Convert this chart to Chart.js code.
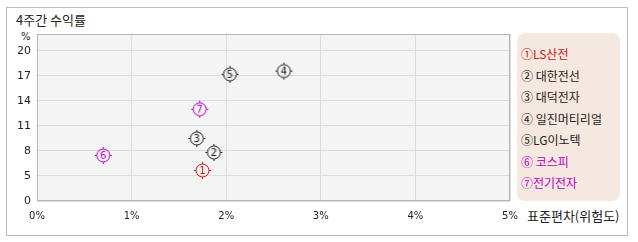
<!DOCTYPE html>
<html><head><meta charset="utf-8">
<script src="https://cdn.jsdelivr.net/npm/chart.js@4/dist/chart.umd.min.js"></script>
<style>
html,body{margin:0;padding:0;background:#fff;width:638px;height:242px;overflow:hidden;font-family:'DejaVu Sans','Noto Sans CJK KR',sans-serif;}
#wrap{position:relative;width:638px;height:242px;}
#frame{position:absolute;left:6px;top:7px;width:620px;height:227px;border:1px solid #bbb;}
#title{position:absolute;left:16px;top:10px;font-size:13px;color:#222;font-family:'Noto Sans CJK KR',sans-serif;}
#unit{position:absolute;left:21px;top:31px;font-size:10px;color:#222;}
#xtitle{position:absolute;left:527px;top:206px;font-size:13px;color:#222;font-family:'Noto Sans CJK KR',sans-serif;}
#legend{position:absolute;left:517px;top:33px;width:103px;height:168px;background:#f5e8e0;border-radius:8px;box-sizing:border-box;padding:10px 0 0 4px;font-family:'Noto Sans CJK KR',sans-serif;font-size:12px;}
#legend div{height:21.5px;line-height:21.5px;white-space:nowrap;}
canvas#c{position:absolute;left:0;top:0;}
</style></head>
<body><div id="wrap">
<div id="frame"></div>
<div id="title">4주간 수익률</div>
<div id="unit">%</div>
<div id="xtitle">표준편차(위험도)</div>
<div id="legend"></div>
<canvas id="c" width="638" height="242"></canvas>
</div>
<script>
const categories = ['①LS산전','② 대한전선','③ 대덕전자','④ 일진머티리얼','⑤LG이노텍','⑥ 코스피','⑦전기전자'];
const markerDigits = ['1','2','3','4','5','6','7'];
const seriesColors = ['#c41a1a','#222222','#222222','#222222','#222222','#b800c0','#b800c0'];
const riskValues = [1.75, 1.87, 1.69, 2.61, 2.04, 0.70, 1.72];
const returnValues = [5.66, 7.81, 9.49, 17.56, 17.17, 7.46, 12.99];
const yTickValues = [2, 5, 8, 11, 14, 17, 20];
const yTickLabels = ['0', '5', '8', '11', '14', '17', '20'];
const xTickLabels = ['0%', '1%', '2%', '3%', '4%', '5%'];

// legend
const leg = document.getElementById('legend');
categories.forEach((c,i)=>{const d=document.createElement('div');d.textContent=c;d.style.color=seriesColors[i];leg.appendChild(d);});

function marker(digit,color){
  const cv=document.createElement('canvas');cv.width=19;cv.height=19;
  const g=cv.getContext('2d');
  g.strokeStyle=color;g.lineWidth=1;
  g.beginPath();g.arc(9.5,9.5,6.5,0,Math.PI*2);g.stroke();
  g.beginPath();
  g.moveTo(9.5,1);g.lineTo(9.5,3);
  g.moveTo(9.5,16);g.lineTo(9.5,18);
  g.moveTo(1,9.5);g.lineTo(3,9.5);
  g.moveTo(16,9.5);g.lineTo(18,9.5);
  g.stroke();
  g.fillStyle=color;g.font='10px "DejaVu Sans"';g.textAlign='center';g.textBaseline='middle';
  g.fillText(digit,9.5,10);
  return cv;
}
const styles = markerDigits.map((d,i)=>marker(d,seriesColors[i]));

const plotBg = {
  id:'plotBg',
  beforeDraw(chart){
    const {ctx,chartArea:a}=chart;
    ctx.save();ctx.fillStyle='#f4f4f4';ctx.fillRect(a.left,a.top,a.right-a.left,a.bottom-a.top);ctx.restore();
  },
  beforeDatasetsDraw(chart){
    const {ctx,chartArea:a}=chart;
    ctx.save();ctx.strokeStyle='#b4b4b4';ctx.lineWidth=1;
    ctx.strokeRect(Math.round(a.left)+0.5,Math.round(a.top)+0.5,Math.round(a.right-a.left)-1,Math.round(a.bottom-a.top)-1);
    ctx.restore();
  }
};

new Chart(document.getElementById('c'),{
  type:'scatter',
  data:{datasets:[{
    data: riskValues.map((x,i)=>({x:x,y:returnValues[i]})),
    pointStyle: styles,
    pointRadius: 9,
    pointHoverRadius: 9
  }]},
  options:{
    responsive:false,animation:false,
    plugins:{legend:{display:false},tooltip:{enabled:false}},
    layout:{padding:{left:0,top:34,right:128,bottom:0}},
    scales:{
      x:{type:'linear',min:0,max:5,
        afterFit(s){s.height=41;},
        border:{display:false},
        grid:{color:'#dcdcdc',drawTicks:false},
        ticks:{stepSize:1,padding:9,color:'#222',font:{family:'DejaVu Sans',size:10},
          callback:(v,i)=>xTickLabels[i]}
      },
      y:{type:'linear',min:2,max:22,
        afterFit(s){s.width=37;},
        afterBuildTicks(s){s.ticks=yTickValues.map(v=>({value:v}));},
        border:{display:false},
        grid:{color:'#dcdcdc',drawTicks:false},
        ticks:{padding:6,color:'#222',font:{family:'DejaVu Sans',size:11},
          callback:(v,i)=>yTickLabels[i]}
      }
    }
  },
  plugins:[plotBg]
});
</script>
</body></html>
